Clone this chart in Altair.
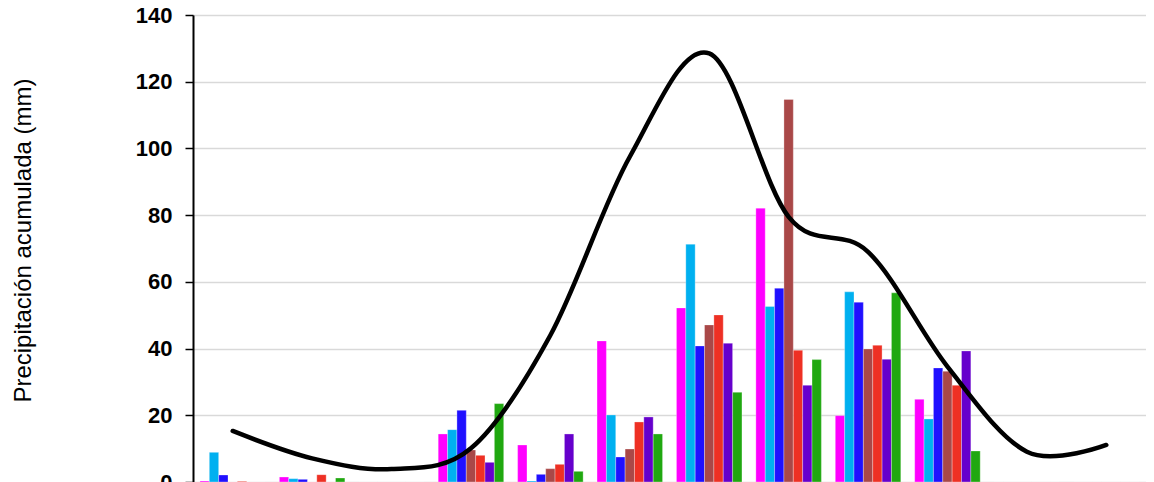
import altair as alt
import pandas as pd

months = ["Ene", "Feb", "Mar", "Abr", "May", "Jun", "Jul", "Ago", "Sep", "Oct", "Nov", "Dic"]
series = ["S1", "S2", "S3", "S4", "S5", "S6", "S7"]
colors = ["#FF00FF", "#00B0F0", "#2010FF", "#A94848", "#EE3024", "#6600CC", "#20A810"]

s1 = [0.3, 1.5, 0, 14.4, 11.1, 42.3, 52.2, 82.1, 19.9, 24.8, 0, 0]
s2 = [8.9, 1.0, 0, 15.7, 0.3, 20.1, 71.3, 52.6, 57.0, 18.9, 0, 0]
s3 = [2.1, 0.8, 0, 21.5, 2.3, 7.5, 40.8, 58.1, 53.9, 34.2, 0, 0]
s4 = [0, 0, 0, 9.6, 4.0, 9.9, 47.1, 114.7, 39.9, 33.2, 0, 0]
s5 = [0.2, 2.2, 0, 8.0, 5.3, 18.0, 50.1, 39.5, 41.0, 29.0, 0, 0]
s6 = [0, 0, 0, 5.9, 14.4, 19.5, 41.6, 29.0, 36.8, 39.3, 0, 0]
s7 = [0, 1.2, 0, 23.5, 3.2, 14.4, 26.9, 36.7, 56.7, 9.3, 0, 0]
climatology = [15.3, 7.1, 3.9, 10.1, 44.0, 97.5, 128.5, 79.5, 69.0, 34.6, 9.1, 11.1]

rows = []
for name, vals in zip(series, [s1, s2, s3, s4, s5, s6, s7]):
    for m, v in zip(months, vals):
        rows.append({"mes": m, "serie": name, "valor": v})
bars_df = pd.DataFrame(rows)
line_df = pd.DataFrame({"mes": months, "valor": climatology})

xscale = alt.Scale(domain=months, paddingInner=0.175, paddingOuter=0.0875)
yscale = alt.Scale(domain=[0, 140], nice=False)

yaxis = alt.Axis(
    values=[0, 20, 40, 60, 80, 100, 120, 140],
    title="Precipitación acumulada (mm)",
    titleFont="Liberation Sans", titleFontSize=24, titleFontWeight="normal",
    titleColor="black", titleX=-170, titleY=225, titleAngle=-90,
    titleAlign="center", titleBaseline="middle",
    labelFont="Liberation Sans", labelFontSize=22, labelFontWeight="bold",
    labelColor="black", labelPadding=13,
    tickColor="black", tickSize=8, tickWidth=1.5,
    domainColor="black", domainWidth=2,
    grid=True, gridColor="#D9D9D9", gridWidth=1.5,
)

bars = alt.Chart(bars_df).mark_bar(stroke="white", strokeWidth=0.6, strokeOpacity=0.5).encode(
    x=alt.X("mes:N", scale=xscale, sort=months,
            axis=alt.Axis(title=None, labels=False, ticks=False, domainColor="black")),
    xOffset=alt.XOffset("serie:N", sort=series, scale=alt.Scale(paddingInner=0, paddingOuter=0)),
    y=alt.Y("valor:Q", scale=yscale, axis=yaxis),
    color=alt.Color("serie:N", sort=series, scale=alt.Scale(domain=series, range=colors), legend=None),
)

line = alt.Chart(line_df).mark_line(color="black", strokeWidth=4.5, interpolate="cardinal",
                                    strokeCap="round").encode(
    x=alt.X("mes:N", scale=xscale, sort=months),
    y=alt.Y("valor:Q", scale=yscale),
)

chart = alt.layer(bars, line).properties(
    width=953, height=467,
    autosize=alt.AutoSizeParams(type="none"),
    padding={"left": 185, "top": 7, "right": 0, "bottom": 0},
).configure_view(stroke="black", strokeWidth=1.5).configure(background="white")

chart.save("out.html", embed_options={"renderer": "svg", "actions": False})
